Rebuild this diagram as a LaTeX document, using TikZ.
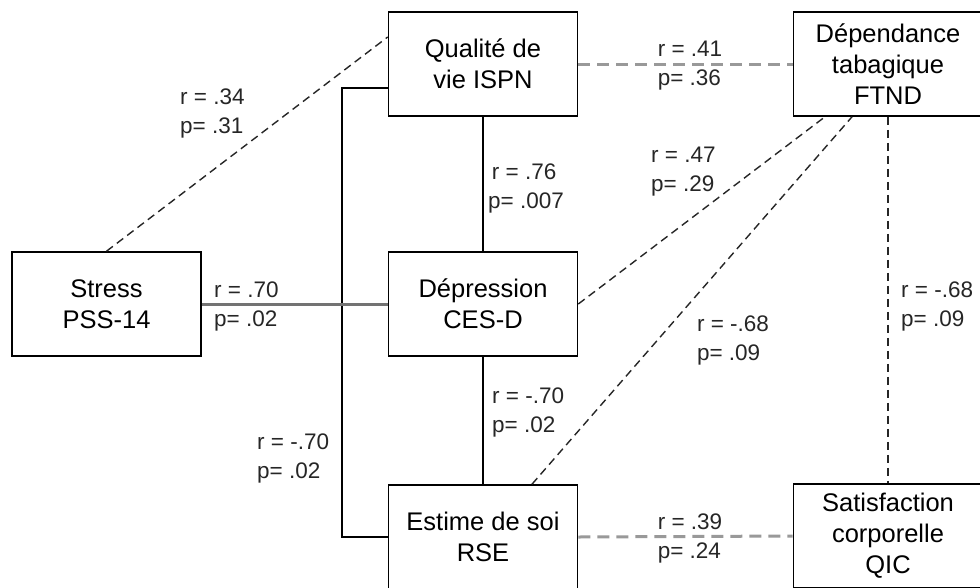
\documentclass[tikz,border=0pt]{standalone}
\usepackage{fontspec}
\setmainfont{Liberation Sans}
\usepackage{tikz}
\tikzset{%
  box/.style={draw=black, line width=1.6pt, minimum width=189pt, minimum height=104pt,
    align=center, inner sep=0pt, font=\fontsize{25.5}{31}\selectfont},
  lbl/.style={align=left, inner sep=0pt, font=\fontsize{22.5}{29}\selectfont, text=black!85},
  sig/.style={draw=black, line width=1.6pt},
  sigstress/.style={draw=black!55, line width=3pt},
  ns/.style={draw=black!85, line width=1.4pt, dash pattern=on 8pt off 5pt},
  nsgray/.style={draw=black!40, line width=3pt, dash pattern=on 12pt off 7pt}
}

\begin{document}
\begin{tikzpicture}[x=1pt,y=-1pt]
\useasboundingbox (0,0) rectangle (980,587);
\fill[white] (0,0) rectangle (980,587);
\node[box] (stress) at (106.5,304) {Stress\\PSS-14};
\node[box] (qualite) at (483,64) {Qualité de\\vie ISPN};
\node[box] (depression) at (483,304) {Dépression\\CES-D};
\node[box] (estime) at (483,537) {Estime de soi\\RSE};
\node[box] (ftnd) at (888,64) {Dépendance\\tabagique\\FTND};
\node[box] (qic) at (888,536) {Satisfaction\\corporelle\\QIC};
% liens significatifs
\draw[sig] (qualite.south) -- (depression.north);
\draw[sig] (depression.south) -- (estime.north);
\draw[sig] (estime.west) -- ++(-46,0) |- ([yshift=-24pt]qualite.west);
\draw[sigstress] (stress.east) -- (depression.west);
% liens non significatifs
\draw[ns] (stress.north) -- ([yshift=27pt]qualite.west);
\draw[ns] (depression.east) -- ([xshift=-63pt]ftnd.south);
\draw[ns] ([xshift=49pt]estime.north) -- ([xshift=-36pt]ftnd.south);
\draw[ns] (ftnd.south) -- (qic.north);
\draw[nsgray] (qualite.east) -- (ftnd.west);
\draw[nsgray] (estime.east) -- (qic.west);
% coefficients
\node[lbl, anchor=west] (l34) at (180,113) {r = .34\\p= .31};
\node[lbl, anchor=west] (l70a) at (214,306) {r = .70\\p= .02};
\node[lbl, anchor=west] (l70b) at (257,458) {r = -.70\\p= .02};
\node[lbl, anchor=west] (l76) at (488,188) {\,r = .76\\p= .007};
\node[lbl, anchor=west] (l70c) at (492,412) {r = -.70\\p= .02};
\node[lbl] (l41) at (690,66) {r = .41\\p= .36};
\node[lbl, anchor=west] (l47) at (651,172) {r = .47\\p= .29};
\node[lbl] (l68a) at (733,340) {r = -.68\\p= .09};
\node[lbl, anchor=west] (l68b) at (901,306) {r = -.68\\p= .09};
\node[lbl] (l39) at (690,538) {r = .39\\p= .24};
\end{tikzpicture}
\end{document}
